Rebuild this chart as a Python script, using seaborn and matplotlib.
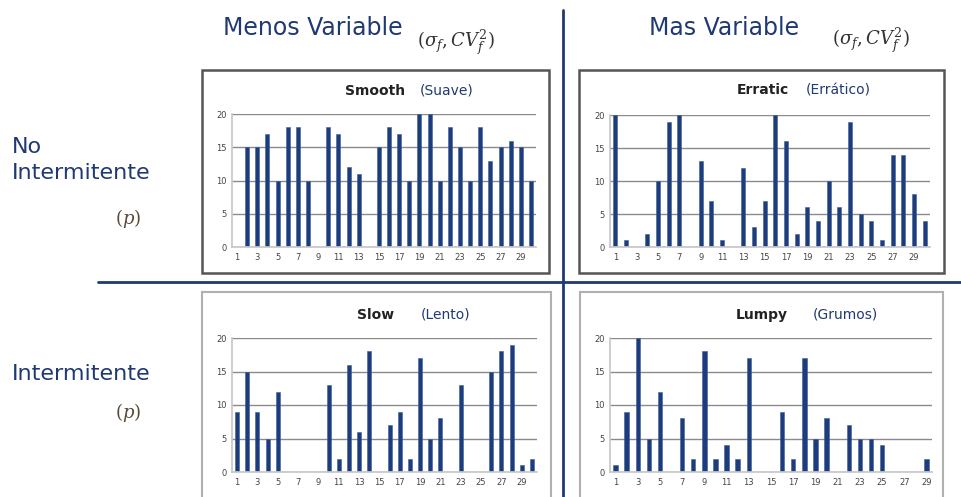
import matplotlib
matplotlib.use('Agg')
import matplotlib.pyplot as plt
import numpy as np
import pandas as pd
import seaborn as sns
from matplotlib.patches import Rectangle
from matplotlib.lines import Line2D

# datos (periodos 1..30)
smooth = [0, 15, 15, 17, 10, 18, 18, 10, 0, 18, 17, 12, 11, 0, 15,
          18, 17, 10, 20, 20, 10, 18, 15, 10, 18, 13, 15, 16, 15, 10]
erratic = [20, 1, 0, 2, 10, 19, 20, 0, 13, 7, 1, 0, 12, 3, 7,
           20, 16, 2, 6, 4, 10, 6, 19, 5, 4, 1, 14, 14, 8, 4]
slow = [9, 15, 9, 5, 12, 0, 0, 0, 0, 13, 2, 16, 6, 18, 0,
        7, 9, 2, 17, 5, 8, 0, 13, 0, 0, 15, 18, 19, 1, 2]
lumpy = [1, 9, 20, 5, 12, 0, 8, 2, 18, 2, 4, 2, 17, 0, 0,
         9, 2, 17, 5, 8, 0, 7, 5, 5, 4, 0, 0, 0, 2]

titulos = ['Smooth', 'Erratic', 'Slow', 'Lumpy']
subtitulos = ['(Suave)', '(Errático)', '(Lento)', '(Grumos)']
y_ticks = [0, 5, 10, 15, 20]

sns.set_theme(style='white')
plt.rcParams['font.family'] = ['DejaVu Sans']
plt.rcParams['mathtext.fontset'] = 'dejavuserif'

W, H = 961, 497
fig = plt.figure(figsize=(W / 100, H / 100), dpi=100)
azul = '#1f3a72'
barra = '#1c3c7c'


def fx(x):
    return x / W


def fy(y):
    return 1 - y / H


def caja(x0, y0, x1, y1, color, lw):
    fig.patches.append(Rectangle((fx(x0), fy(y1)), fx(x1 - x0), (y1 - y0) / H,
                                 transform=fig.transFigure, fill=False,
                                 edgecolor=color, lw=lw, zorder=1))


# marcos de cada grafico
caja(202, 70, 549, 273, '#555555', 1.8)
caja(579, 70, 944, 273, '#555555', 1.8)
caja(202, 292, 551, 500, '#b0b0b0', 1.5)
caja(580, 292, 943, 500, '#b0b0b0', 1.5)

# posiciones de los ejes (px): izq, der, arriba(20), abajo(0)
pos = [(232, 536, 114, 247), (610, 930, 115, 247),
       (232, 537, 338, 472), (610, 932, 338, 472)]
series = [smooth, erratic, slow, lumpy]

for serie, (l, r, t, b) in zip(series, pos):
    ax = fig.add_axes([fx(l), fy(b), fx(r - l), (b - t) / H])
    n = len(serie)
    df = pd.DataFrame({'periodo': np.arange(1, n + 1), 'demanda': serie})
    sns.barplot(data=df, x='periodo', y='demanda', color=barra,
                width=0.4, saturation=1, ax=ax, edgecolor='#3f5f9f', linewidth=0.4)
    ax.set_ylim(0, 20)
    ax.set_xlim(-0.5, n - 0.5)
    ax.set_yticks(y_ticks)
    ax.set_yticklabels([str(v) for v in y_ticks], fontsize=6, color='#444444')
    ax.set_xticks(range(0, n, 2))
    ax.set_xticklabels([str(i + 1) for i in range(0, n, 2)], fontsize=6, color='#444444')
    ax.set_xlabel('')
    ax.set_ylabel('')
    ax.grid(axis='y', color='#8a8a8a', lw=1)
    ax.set_axisbelow(True)
    for s in ['top', 'right']:
        ax.spines[s].set_visible(False)
    ax.spines['left'].set_color('#c8c8c8')
    ax.spines['bottom'].set_color('#c8c8c8')
    ax.tick_params(axis='both', length=0, pad=4)
    ax.patch.set_alpha(0)

# titulos de cada grafico
tit_pos = [(375, 91, 447), (763, 90, 838), (376, 315, 446), (762, 315, 845)]
for (xt, yt, xs), t, s in zip(tit_pos, titulos, subtitulos):
    fig.text(fx(xt), fy(yt), t, ha='center', va='center', fontsize=10,
             fontweight='bold', color='#222222')
    fig.text(fx(xs), fy(yt), s, ha='center', va='center', fontsize=10,
             color=azul)

# lineas divisorias
fig.lines.append(Line2D([fx(563), fx(563)], [fy(10), fy(497)],
                        transform=fig.transFigure, color=azul, lw=2))
fig.lines.append(Line2D([fx(98), fx(961)], [fy(282), fy(282)],
                        transform=fig.transFigure, color=azul, lw=2))

# encabezados
narrow = ['Liberation Sans Narrow', 'DejaVu Sans']
fig.text(fx(313), fy(28), 'Menos Variable', ha='center', va='center',
         fontsize=17, color=azul, family=narrow)
fig.text(fx(456), fy(42), r'$(\sigma_f, CV_f^2)$', ha='center', va='center',
         fontsize=13, color='#333333')
fig.text(fx(724), fy(28), 'Mas Variable', ha='center', va='center',
         fontsize=17, color=azul, family=narrow)
fig.text(fx(871), fy(40), r'$(\sigma_f, CV_f^2)$', ha='center', va='center',
         fontsize=13, color='#333333')

fig.text(fx(12), fy(160), 'No\nIntermitente', ha='left', va='center',
         fontsize=16, color=azul, linespacing=1.35)
fig.text(fx(128), fy(219), r'$(p)$', ha='center', va='center', fontsize=13,
         color='#5a4a3a')
fig.text(fx(12), fy(374), 'Intermitente', ha='left', va='center',
         fontsize=16, color=azul)
fig.text(fx(128), fy(413), r'$(p)$', ha='center', va='center', fontsize=13,
         color='#5a4a3a')

fig.savefig('out.png', dpi=100)
